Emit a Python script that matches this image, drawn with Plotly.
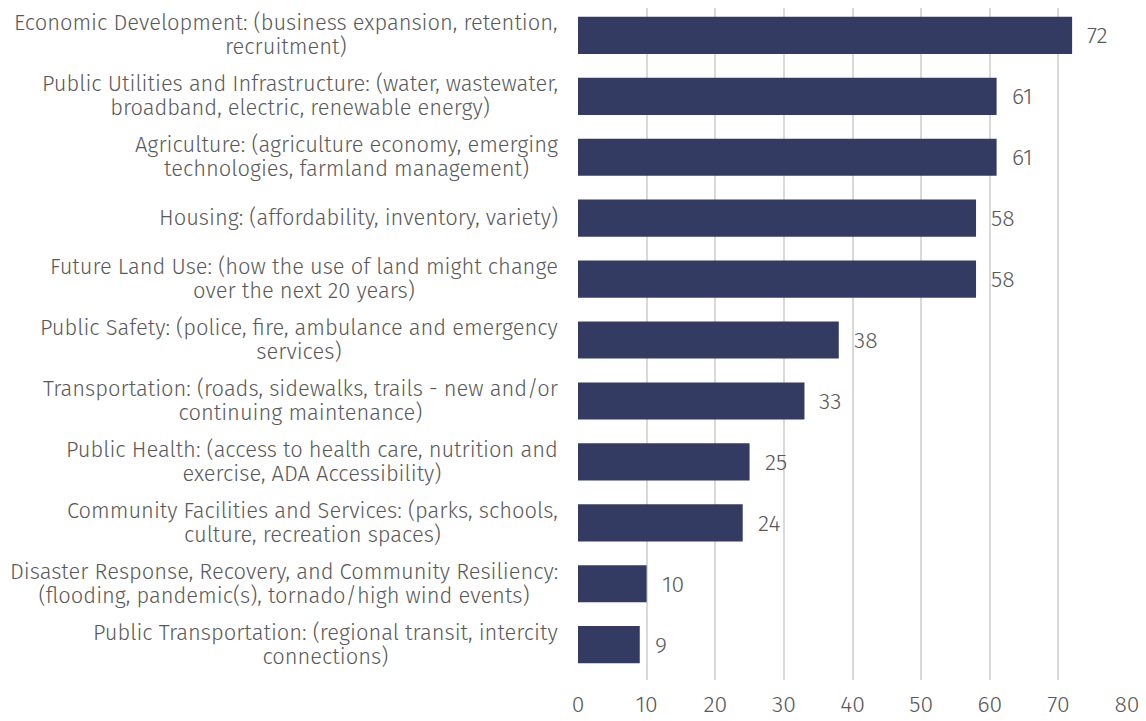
import plotly.graph_objects as go

categories = [
    'Economic Development: (business expansion, retention,<br>recruitment)',
    'Public Utilities and Infrastructure: (water, wastewater,<br>broadband, electric, renewable energy)',
    'Agriculture: (agriculture economy, emerging<br>technologies, farmland management)',
    'Housing: (affordability, inventory, variety)',
    'Future Land Use: (how the use of land might change<br>over the next 20 years)',
    'Public Safety: (police, fire, ambulance and emergency<br>services)',
    'Transportation: (roads, sidewalks, trails - new and/or<br>continuing maintenance)',
    'Public Health: (access to health care, nutrition and<br>exercise, ADA Accessibility)',
    'Community Facilities and Services: (parks, schools,<br>culture, recreation spaces)',
    'Disaster Response, Recovery, and Community Resiliency:<br>(flooding, pandemic(s), tornado/high wind events)',
    'Public Transportation: (regional transit, intercity<br>connections)',
]
values = [72, 61, 61, 58, 58, 38, 33, 25, 24, 10, 9]
x_ticks = [0, 10, 20, 30, 40, 50, 60, 70, 80]

FONT = 'Fira Sans, Noto Sans, sans-serif'
GREY = '#595959'

fig = go.Figure()

fig.add_trace(
    go.Bar(
        x=values,
        y=categories,
        orientation='h',
        marker=dict(color='#333B62', line=dict(width=0)),
        hoverinfo='skip'
    )
)

# category labels as annotations so that wrapped lines are centred
for cat in categories:
    lines = cat.split('<br>')
    txt = '<br>'.join('<span style="font-size:21.9px">' + ln + '</span>' for ln in lines)
    fig.add_annotation(
        x=0, xref='paper', y=cat, yref='y',
        text=txt, showarrow=False,
        xanchor='right', yanchor='middle', xshift=-18,
        align='center',
        font=dict(family=FONT, size=18.5, color=GREY, weight=300)
    )

# value labels
for cat, v in zip(categories, values):
    fig.add_annotation(
        x=v, y=cat, text=str(v), showarrow=False,
        xanchor='left', yanchor='middle', xshift=13,
        font=dict(family=FONT, size=23, color=GREY, weight=300)
    )

# page body has an 8px margin, so the figure is drawn 8px smaller
fig.update_layout(
    width=1138, height=713,
    margin=dict(l=570, r=19, t=0, b=41),
    paper_bgcolor='white', plot_bgcolor='white',
    bargap=0.39,
    showlegend=False,
    font=dict(family=FONT, size=20, color=GREY),
)

fig.update_xaxes(
    range=[0, 80], tickvals=x_ticks,
    showgrid=True, gridcolor='#D9D9D9', gridwidth=2,
    zeroline=False, showline=False,
    tickfont=dict(family=FONT, size=23, color=GREY, weight=300),
    ticks='', ticklabelstandoff=8,
)

fig.update_yaxes(
    range=[10.58, -0.45], showticklabels=False,
    showgrid=False, zeroline=False, showline=False,
)

fig.write_html("out.html")
